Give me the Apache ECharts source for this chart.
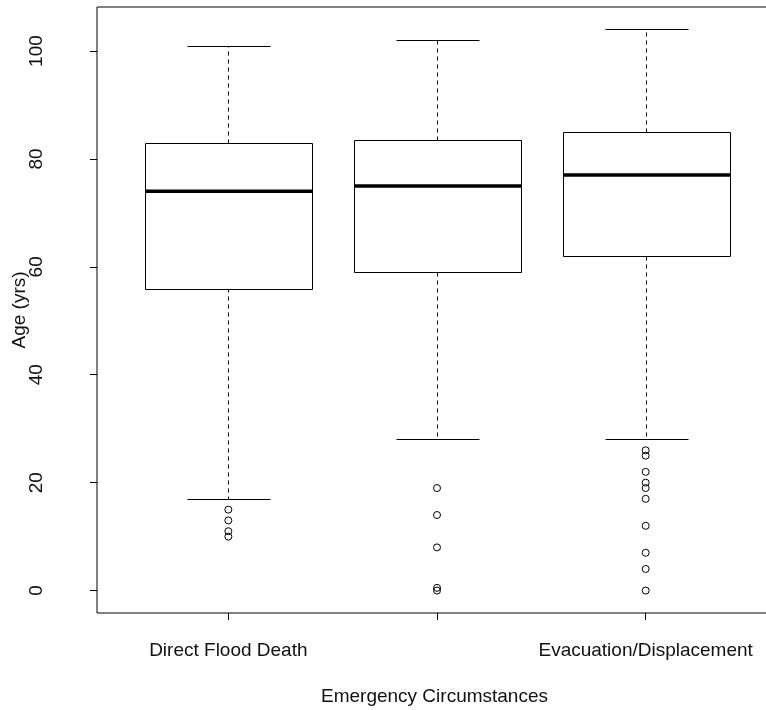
<!DOCTYPE html>
<html>
<head>
<meta charset="utf-8">
<script src="https://cdn.jsdelivr.net/npm/echarts@6/dist/echarts.min.js"></script>
<style>
  html, body { margin: 0; padding: 0; background: #fff; }
  #main { width: 766px; height: 710px; }
</style>
</head>
<body>
<div id="main"></div>
<script>
// groups (the middle label is not printed in the original plot)
const categories = ['Direct Flood Death', '', 'Evacuation/Displacement'];

// five-number summaries, age in years
const whiskerLow = [17, 28, 28];
const q1 = [56, 59, 62];
const median = [74, 75, 77];
const q3 = [83, 83.5, 85];
const whiskerHigh = [101, 102, 104];

// points beyond the whiskers
const outliersDirect = [15, 13, 11, 10];
const outliersMiddle = [19, 14, 8, 0.5, 0];
const outliersEvac = [26, 25, 22, 20, 19, 17, 12, 7, 4, 0];

const yTicks = [0, 20, 40, 60, 80, 100];
const yMin = -4.16;
const yMax = 108.16;

const font = 'Liberation Sans, Arial, sans-serif';
const ink = '#111';

const boxData = categories.map(function (c, i) {
  return [i, whiskerLow[i], q1[i], median[i], q3[i], whiskerHigh[i]];
});

const outlierData = [];
[outliersDirect, outliersMiddle, outliersEvac].forEach(function (arr, i) {
  arr.forEach(function (v) { outlierData.push([i, v]); });
});

function px(v) { return Math.round(v) + 0.5; }

function renderBox(params, api) {
  const i = api.value(0);
  const lo = api.coord([i, api.value(1)]);
  const b1 = api.coord([i, api.value(2)]);
  const md = api.coord([i, api.value(3)]);
  const b3 = api.coord([i, api.value(4)]);
  const hi = api.coord([i, api.value(5)]);
  const band = api.size([1, 0])[0];
  const half = band * 0.4;
  const cap = half * 0.5;
  const cx = px(lo[0]);
  const line = { stroke: '#000', lineWidth: 1 };
  const dash = { stroke: '#000', lineWidth: 1, lineDash: [4, 4] };
  return {
    type: 'group',
    children: [
      { type: 'line', shape: { x1: cx, y1: px(b3[1]), x2: cx, y2: px(hi[1]) }, style: dash },
      { type: 'line', shape: { x1: cx, y1: px(b1[1]), x2: cx, y2: px(lo[1]) }, style: dash },
      { type: 'line', shape: { x1: px(cx - cap), y1: px(hi[1]), x2: px(cx + cap), y2: px(hi[1]) }, style: line },
      { type: 'line', shape: { x1: px(cx - cap), y1: px(lo[1]), x2: px(cx + cap), y2: px(lo[1]) }, style: line },
      {
        type: 'rect',
        shape: { x: px(cx - half), y: px(b3[1]), width: Math.round(2 * half), height: Math.round(b1[1] - b3[1]) },
        style: { fill: '#fff', stroke: '#000', lineWidth: 1 }
      },
      { type: 'line', shape: { x1: px(cx - half), y1: md[1], x2: px(cx + half), y2: md[1] }, style: { stroke: '#000', lineWidth: 3.5 } }
    ]
  };
}

const chart = echarts.init(document.getElementById('main'), null, { renderer: 'canvas' });

chart.setOption({
  backgroundColor: '#fff',
  animation: false,
  textStyle: { fontFamily: font, color: ink },
  grid: [
    { left: 124, width: 626, top: 7, bottom: 97, outerBoundsMode: 'none' },
    { left: 97, width: 675, top: 7, bottom: 97, show: true, borderColor: '#000', borderWidth: 1, backgroundColor: 'transparent', outerBoundsMode: 'none' }
  ],
  xAxis: [
    {
      type: 'category',
      gridIndex: 0,
      data: categories,
      position: 'bottom',
      axisLine: { show: false, onZero: false },
      axisTick: { show: true, alignWithLabel: true, length: 7, lineStyle: { color: '#000' } },
      axisLabel: { margin: 28, fontSize: 19, color: ink, fontFamily: font, interval: 0 },
      splitLine: { show: false }
    },
    {
      type: 'value',
      gridIndex: 1,
      min: 0,
      max: 1,
      axisLine: { show: false, onZero: false },
      axisTick: { show: false },
      axisLabel: { show: false },
      splitLine: { show: false },
      name: 'Emergency Circumstances',
      nameLocation: 'middle',
      nameGap: 74,
      nameMoveOverlap: false,
      nameTextStyle: { fontSize: 19, color: ink, fontFamily: font }
    }
  ],
  yAxis: [
    {
      type: 'value',
      gridIndex: 0,
      min: yMin,
      max: yMax,
      show: false
    },
    {
      type: 'value',
      gridIndex: 1,
      min: yMin,
      max: yMax,
      axisLine: { show: false, onZero: false },
      axisTick: { show: true, length: 7, customValues: yTicks, lineStyle: { color: '#000' } },
      axisLabel: { customValues: yTicks, rotate: 90, margin: 51, fontSize: 19, color: ink, fontFamily: font },
      splitLine: { show: false },
      name: 'Age (yrs)',
      nameLocation: 'middle',
      nameRotate: 90,
      nameGap: 68,
      nameMoveOverlap: false,
      nameTextStyle: { fontSize: 19, color: ink, fontFamily: font }
    }
  ],
  series: [
    {
      type: 'custom',
      xAxisIndex: 0,
      yAxisIndex: 0,
      renderItem: renderBox,
      encode: { x: 0, y: [1, 2, 3, 4, 5] },
      data: boxData,
      silent: true
    },
    {
      type: 'scatter',
      xAxisIndex: 0,
      yAxisIndex: 0,
      symbol: 'circle',
      symbolSize: 7,
      itemStyle: { color: 'rgba(0,0,0,0)', borderColor: '#000', borderWidth: 1, opacity: 1 },
      data: outlierData,
      silent: true
    }
  ]
});
</script>
</body>
</html>
